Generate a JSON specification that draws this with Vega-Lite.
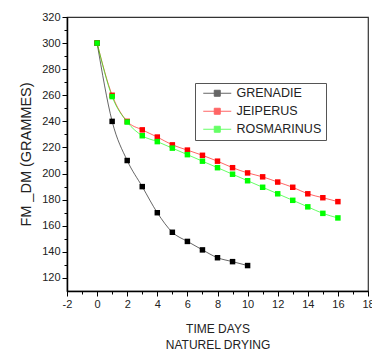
{
  "$schema": "https://vega.github.io/schema/vega-lite/v6.json",
  "width": 301,
  "height": 274,
  "autosize": {"type": "none"},
  "padding": {"left": 67, "top": 17, "right": 4, "bottom": 63},
  "background": "white",
  "config": {
    "font": "Liberation Sans",
    "view": {"stroke": "#333333", "strokeWidth": 1.2},
    "axis": {"grid": false, "domainColor": "black", "domainWidth": 1.5, "tickColor": "black", "labelColor": "#222222", "titleColor": "#222222", "labelFontSize": 11, "titleFontSize": 12, "titleFontWeight": "normal", "labelFlush": false}
  },
  "data": {
    "values": [
      {"day": 0, "fm": 300, "series": "GRENADIE"},
      {"day": 1, "fm": 240, "series": "GRENADIE"},
      {"day": 2, "fm": 210, "series": "GRENADIE"},
      {"day": 3, "fm": 190, "series": "GRENADIE"},
      {"day": 4, "fm": 170, "series": "GRENADIE"},
      {"day": 5, "fm": 155, "series": "GRENADIE"},
      {"day": 6, "fm": 148, "series": "GRENADIE"},
      {"day": 7, "fm": 141.5, "series": "GRENADIE"},
      {"day": 8, "fm": 135.5, "series": "GRENADIE"},
      {"day": 9, "fm": 132.5, "series": "GRENADIE"},
      {"day": 10, "fm": 129.5, "series": "GRENADIE"},
      {"day": 0, "fm": 300, "series": "JEIPERUS"},
      {"day": 1, "fm": 260, "series": "JEIPERUS"},
      {"day": 2, "fm": 240, "series": "JEIPERUS"},
      {"day": 3, "fm": 233.5, "series": "JEIPERUS"},
      {"day": 4, "fm": 228, "series": "JEIPERUS"},
      {"day": 5, "fm": 222, "series": "JEIPERUS"},
      {"day": 6, "fm": 218, "series": "JEIPERUS"},
      {"day": 7, "fm": 214, "series": "JEIPERUS"},
      {"day": 8, "fm": 209.5, "series": "JEIPERUS"},
      {"day": 9, "fm": 204.5, "series": "JEIPERUS"},
      {"day": 10, "fm": 200.5, "series": "JEIPERUS"},
      {"day": 11, "fm": 197.5, "series": "JEIPERUS"},
      {"day": 12, "fm": 193.5, "series": "JEIPERUS"},
      {"day": 13, "fm": 189.5, "series": "JEIPERUS"},
      {"day": 14, "fm": 184.5, "series": "JEIPERUS"},
      {"day": 15, "fm": 181.5, "series": "JEIPERUS"},
      {"day": 16, "fm": 178.5, "series": "JEIPERUS"},
      {"day": 0, "fm": 300, "series": "ROSMARINUS"},
      {"day": 1, "fm": 259, "series": "ROSMARINUS"},
      {"day": 2, "fm": 239.5, "series": "ROSMARINUS"},
      {"day": 3, "fm": 229, "series": "ROSMARINUS"},
      {"day": 4, "fm": 224.5, "series": "ROSMARINUS"},
      {"day": 5, "fm": 219.5, "series": "ROSMARINUS"},
      {"day": 6, "fm": 214.5, "series": "ROSMARINUS"},
      {"day": 7, "fm": 209.5, "series": "ROSMARINUS"},
      {"day": 8, "fm": 204.5, "series": "ROSMARINUS"},
      {"day": 9, "fm": 199.5, "series": "ROSMARINUS"},
      {"day": 10, "fm": 194.5, "series": "ROSMARINUS"},
      {"day": 11, "fm": 189.5, "series": "ROSMARINUS"},
      {"day": 12, "fm": 184.5, "series": "ROSMARINUS"},
      {"day": 13, "fm": 179.5, "series": "ROSMARINUS"},
      {"day": 14, "fm": 174.5, "series": "ROSMARINUS"},
      {"day": 15, "fm": 169.5, "series": "ROSMARINUS"},
      {"day": 16, "fm": 166, "series": "ROSMARINUS"}
    ]
  },
  "encoding": {
    "x": {
      "field": "day", "type": "quantitative",
      "scale": {"domain": [-2, 18], "nice": false, "zero": false},
      "axis": {
        "values": [-2, -1, 0, 1, 2, 3, 4, 5, 6, 7, 8, 9, 10, 11, 12, 13, 14, 15, 16, 17, 18],
        "labelExpr": "datum.value % 2 === 0 ? '' + datum.value : ''",
        "tickSize": {"condition": {"test": "datum.value % 2 === 0", "value": 5}, "value": 3},
        "labelPadding": 2,
        "title": ["TIME DAYS", "NATUREL DRYING"],
        "titlePadding": 14,
        "titleLineHeight": 16
      }
    },
    "y": {
      "field": "fm", "type": "quantitative",
      "scale": {"domain": [110, 320], "nice": false, "zero": false},
      "axis": {
        "values": [120, 130, 140, 150, 160, 170, 180, 190, 200, 210, 220, 230, 240, 250, 260, 270, 280, 290, 300, 310, 320],
        "labelExpr": "datum.value % 20 === 0 ? datum.label : ''",
        "tickSize": {"condition": {"test": "datum.value % 20 === 0", "value": 5}, "value": 3},
        "labelPadding": 2,
        "title": "FM _DM (GRAMMES)",
        "titleFontSize": 14.5,
        "titlePadding": 8
      }
    },
    "color": {
      "field": "series", "type": "nominal",
      "scale": {"domain": ["GRENADIE", "JEIPERUS", "ROSMARINUS"], "range": ["#000000", "#ff0000", "#00ff00"]}
    }
  },
  "layer": [
    {
      "mark": {"type": "line", "interpolate": "monotone", "strokeWidth": 1, "opacity": 0.6}
    },
    {
      "mark": {"type": "point", "shape": "square", "filled": true, "size": 30, "opacity": 1},
      "encoding": {
        "color": {
          "field": "series", "type": "nominal",
          "legend": {
            "title": null,
            "orient": "none",
            "legendX": 128,
            "legendY": 66,
            "strokeColor": "#555555",
            "padding": 4,
            "symbolType": "M-0.4,0L5.2,0M1.8,-0.6L3,-0.6L3,0.6L1.8,0.6Z",
            "symbolSize": 100,
            "symbolStrokeWidth": 1,
            "labelOffset": 25,
            "labelFontSize": 12.5,
            "labelColor": "#222222",
            "rowPadding": 5,
            "encode": {
              "symbols": {
                "update": {
                  "fill": {"scale": "color", "field": "value"},
                  "stroke": {"scale": "color", "field": "value"},
                  "strokeOpacity": {"value": 0.6},
                  "fillOpacity": {"value": 1},
                  "opacity": {"value": 1}
                }
              }
            }
          }
        }
      }
    }
  ]
}
